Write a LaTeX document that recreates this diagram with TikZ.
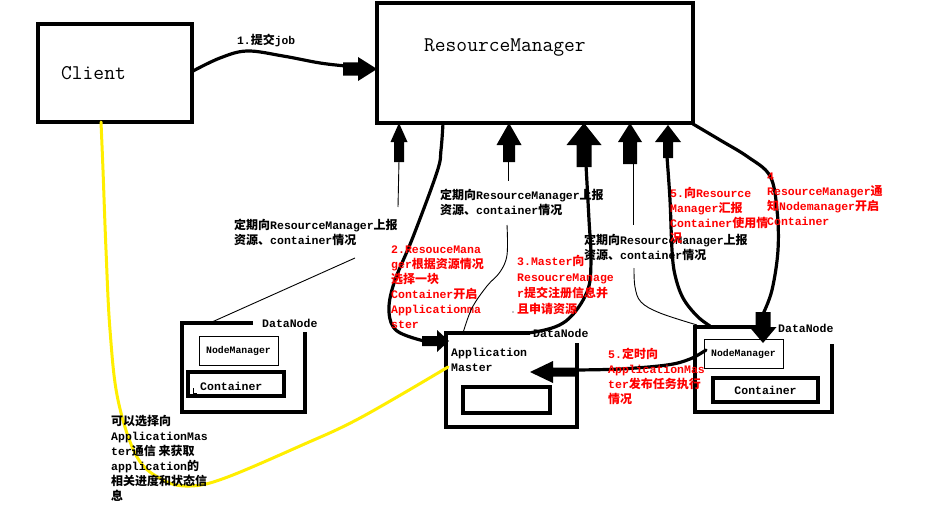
\documentclass[tikz,border=0pt]{standalone}
\usepackage{fontspec}
\usetikzlibrary{calc}
\newfontfamily\mono{Liberation Mono}
\newfontfamily\cjk{Noto Sans CJK SC}
\newcommand\zh[1]{{\cjk\fontsize{12}{15}\selectfont #1}}
\definecolor{hlyellow}{RGB}{255,238,0}
\definecolor{lblred}{RGB}{255,0,0}
\newcommand\blkup[6]{\fill (#1,#2) -- ({#1+#3},#4) -- ({#1+#5},#4) -- ({#1+#5},#6) -- ({#1-#5},#6) -- ({#1-#5},#4) -- ({#1-#3},#4) -- cycle;}
\newcommand\blkdown[6]{\fill (#1,#2) -- ({#1+#3},#4) -- ({#1+#5},#4) -- ({#1+#5},#6) -- ({#1-#5},#6) -- ({#1-#5},#4) -- ({#1-#3},#4) -- cycle;}
\newcommand\blkhor[6]{\fill (#1,#2) -- (#4,{#2+#3}) -- (#4,{#2+#5}) -- (#6,{#2+#5}) -- (#6,{#2-#5}) -- (#4,{#2-#5}) -- (#4,{#2-#3}) -- cycle;}
\tikzset{
  box/.style={inner sep=0pt, outer sep=0pt, anchor=north west},
  boxline/.style={line width=3.5pt},
  thinbox/.style={draw, line width=0.9pt},
  lbl/.style={anchor=north west, inner sep=0pt, align=left, font=\fontsize{11.5}{15}\selectfont\mono\bfseries},
  redlbl/.style={lbl, text=lblred},
  bigtxt/.style={inner sep=0pt, anchor=west, font=\fontsize{20.9}{22}\selectfont\ttfamily},
  curve/.style={line width=3.2pt, line cap=round, line join=round},
  thinline/.style={line width=0.9pt},
  yline/.style={line width=3pt, draw=hlyellow, line cap=round},
  smalltxt/.style={inner sep=0pt, font=\fontsize{9.8}{11}\selectfont\mono\bfseries},
}
\begin{document}
\begin{tikzpicture}[x=1pt,y=-1pt]
\useasboundingbox (0,0) rectangle (939,527);
% main boxes
\node[box, draw, boxline, minimum width=154pt, minimum height=98pt] (client) at (38,24) {};
\node[bigtxt] (clienttxt) at (61,73) {Client};
\node[box, draw, boxline, minimum width=316pt, minimum height=120pt] (rm) at (377,3) {};
\node[bigtxt] (rmtxt) at (424,48) {ResourceManager};

% left DataNode
\node[box, minimum width=123pt, minimum height=89pt] (dn1) at (182,323) {};
\draw[boxline] ($(dn1.north west)+(71,0)$) -| (dn1.south west) -- (dn1.south east) -- ($(dn1.north east)+(0,9)$);
\draw[boxline] ($(dn1.north west)+(-2,0)$) -- (dn1.north west);
\node[lbl, anchor=west] (dn1lbl) at (262,323) {DataNode};
\node[box, thinbox, minimum width=79pt, minimum height=29pt, smalltxt] (nm1) at (199,336) {NodeManager};
\node[box, draw, boxline, minimum width=96pt, minimum height=24pt] (ct1) at (188,372) {};
\node[lbl, anchor=west] (ct1txt) at (200,386) {Container};
\draw[line width=0.8pt] (193,388) -- (193,393) -- (197,393);

% ApplicationMaster DataNode
\node[box, minimum width=131pt, minimum height=94pt] (dn2) at (446,333) {};
\draw[boxline] ($(dn2.north west)+(84,0)$) -| (dn2.south west) -- (dn2.south east) -- ($(dn2.north east)+(0,10)$);
\node[lbl, anchor=west] (dn2lbl) at (533,333) {DataNode};
\node[lbl] (amtxt) at (451,348) {Application\\Master};
\node[box, draw, boxline, minimum width=87pt, minimum height=26pt] (ct2) at (463,387) {};

% right DataNode
\node[box, minimum width=137pt, minimum height=85pt] (dn3) at (695,327) {};
\draw[boxline] ($(dn3.north west)+(75,0)$) -| (dn3.south west) -- (dn3.south east) -- ($(dn3.north east)+(0,17)$);
\node[lbl, anchor=west] (dn3lbl) at (778,328) {DataNode};
\node[box, thinbox, minimum width=79pt, minimum height=29pt, smalltxt] (nm3) at (704,339) {NodeManager};
\node[box, draw, boxline, minimum width=105pt, minimum height=24pt, font=\fontsize{11.5}{15}\selectfont\mono\bfseries] (ct3) at (713,378) {Container};

% arrow 1: Client -> RM
\draw[curve] plot[smooth, tension=0.6] coordinates {(193,71) (220,58) (247,51) (283,56) (320,63) (346,66)};
\blkhor{377}{69}{12}{358}{6.5}{343}
\node[lbl, anchor=west, font=\fontsize{11.3}{13}\selectfont\mono\bfseries] (l1) at (237,40) {1.\zh{提交}job};

% arrow A (left DataNode -> RM)
\blkup{399}{123}{8.5}{142}{5}{162}
\draw[thinline] (399,160) -- (398,207);
\draw[thinline] (355,258) -- (212,322);
\node[lbl] (la) at (234,219) {\zh{定期向}ResourceManager\zh{上报}\\\zh{资源、}container\zh{情况}};

% arrow B (RM -> AM)
\draw[curve] plot[smooth, tension=0.6] coordinates {(443,123) (441,150) (437,172) (413,237) (394,283) (389,312) (397,331) (424,341)};
\blkhor{449}{341}{11}{437}{5}{422}
\node[redlbl] (lb) at (391,246) {2.ResouceMana\\ger\zh{根据资源情况}\\\zh{选择一块}\\Container\zh{开启}\\Applicationma\\ster};

% arrow C (AM thin -> RM)
\blkup{509}{123}{12.5}{145}{6}{162}
\draw[thinline] (508,160) -- (508,181);
\draw[thinline] plot[smooth, tension=0.6] coordinates {(507,225) (507,255) (500,272) (487,286) (472,308) (463,333)};
\node[lbl] (lc) at (440,189) {\zh{定期向}ResourceManager\zh{上报}\\\zh{资源、}container\zh{情况}};

% arrow D (AM -> RM)
\blkup{584}{123}{17.5}{145}{7.5}{167}
\draw[curve] plot[smooth, tension=0.6] coordinates {(586,165) (589,220) (591,260) (587,292) (566,321) (535,332) (503,333) (470,333)};
\node[redlbl, font=\fontsize{11.5}{16}\selectfont\mono\bfseries] (ld) at (517,255) {3.Master\zh{向}\\ResoucreManage\\r\zh{提交注册信息并}\\\zh{且申请资源}};
\fill (513,312) circle (0.7);

% arrow F (right DataNode thin -> RM)
\blkup{630}{123}{12}{142}{7}{164}
\draw[thinline] (633,162) -- (633,225);
\draw[thinline] plot[smooth, tension=0.6] coordinates {(634,268) (635,287) (641,302) (660,313) (697,325)};
\node[lbl] (lf) at (584,234) {\zh{定期向}ResourceManager\zh{上报}\\\zh{资源、}container\zh{情况}};

% arrow G (right DataNode -> RM)
\blkup{668}{125}{13}{142}{5}{158}
\draw[curve] plot[smooth, tension=0.6] coordinates {(667,157) (670,200) (672,250) (675,275) (683,298) (697,316) (710,326)};
\node[redlbl] (lg) at (670,187) {5.\zh{向}Resource\\Manager\zh{汇报}\\Container\zh{使用情}\\\zh{况}};

% arrow E (RM -> right NodeManager)
\draw[curve] plot[smooth, tension=0.6] coordinates {(693,124) (720,140) (748,157) (770,176) (777,210) (778,250) (772,290) (763,314)};
\blkdown{763}{343}{13.5}{327}{7.5}{312}
\node[redlbl] (le) at (767,173) {4\\ResourceManager\zh{通}\\\zh{知}Nodemanager\zh{开启}\\Container};

% arrow NodeManager -> AM
\draw[curve] plot[smooth, tension=0.6] coordinates {(706,350) (690,359) (667,365) (620,369) (574,370)};
\blkhor{530}{372}{11}{553}{4.5}{575}
\node[redlbl] (lh) at (608,348) {5.\zh{定时向}\\ApplicationMas\\ter\zh{发布任务执行}\\\zh{情况}};

% yellow: Client <-> ApplicationMaster
\draw[yline] plot[smooth, tension=0.6] coordinates {(101,122) (103,170) (106,250) (110,330) (118,400) (137,457) (163,480) (190,486) (225,478) (300,446) (360,418) (448,367)};
\node[lbl] (ly) at (111,415) {\zh{可以选择向}\\ApplicationMas\\ter\zh{通信 来获取}\\application\zh{的}\\\zh{相关进度和状态信}\\\zh{息}};
\end{tikzpicture}
\end{document}
